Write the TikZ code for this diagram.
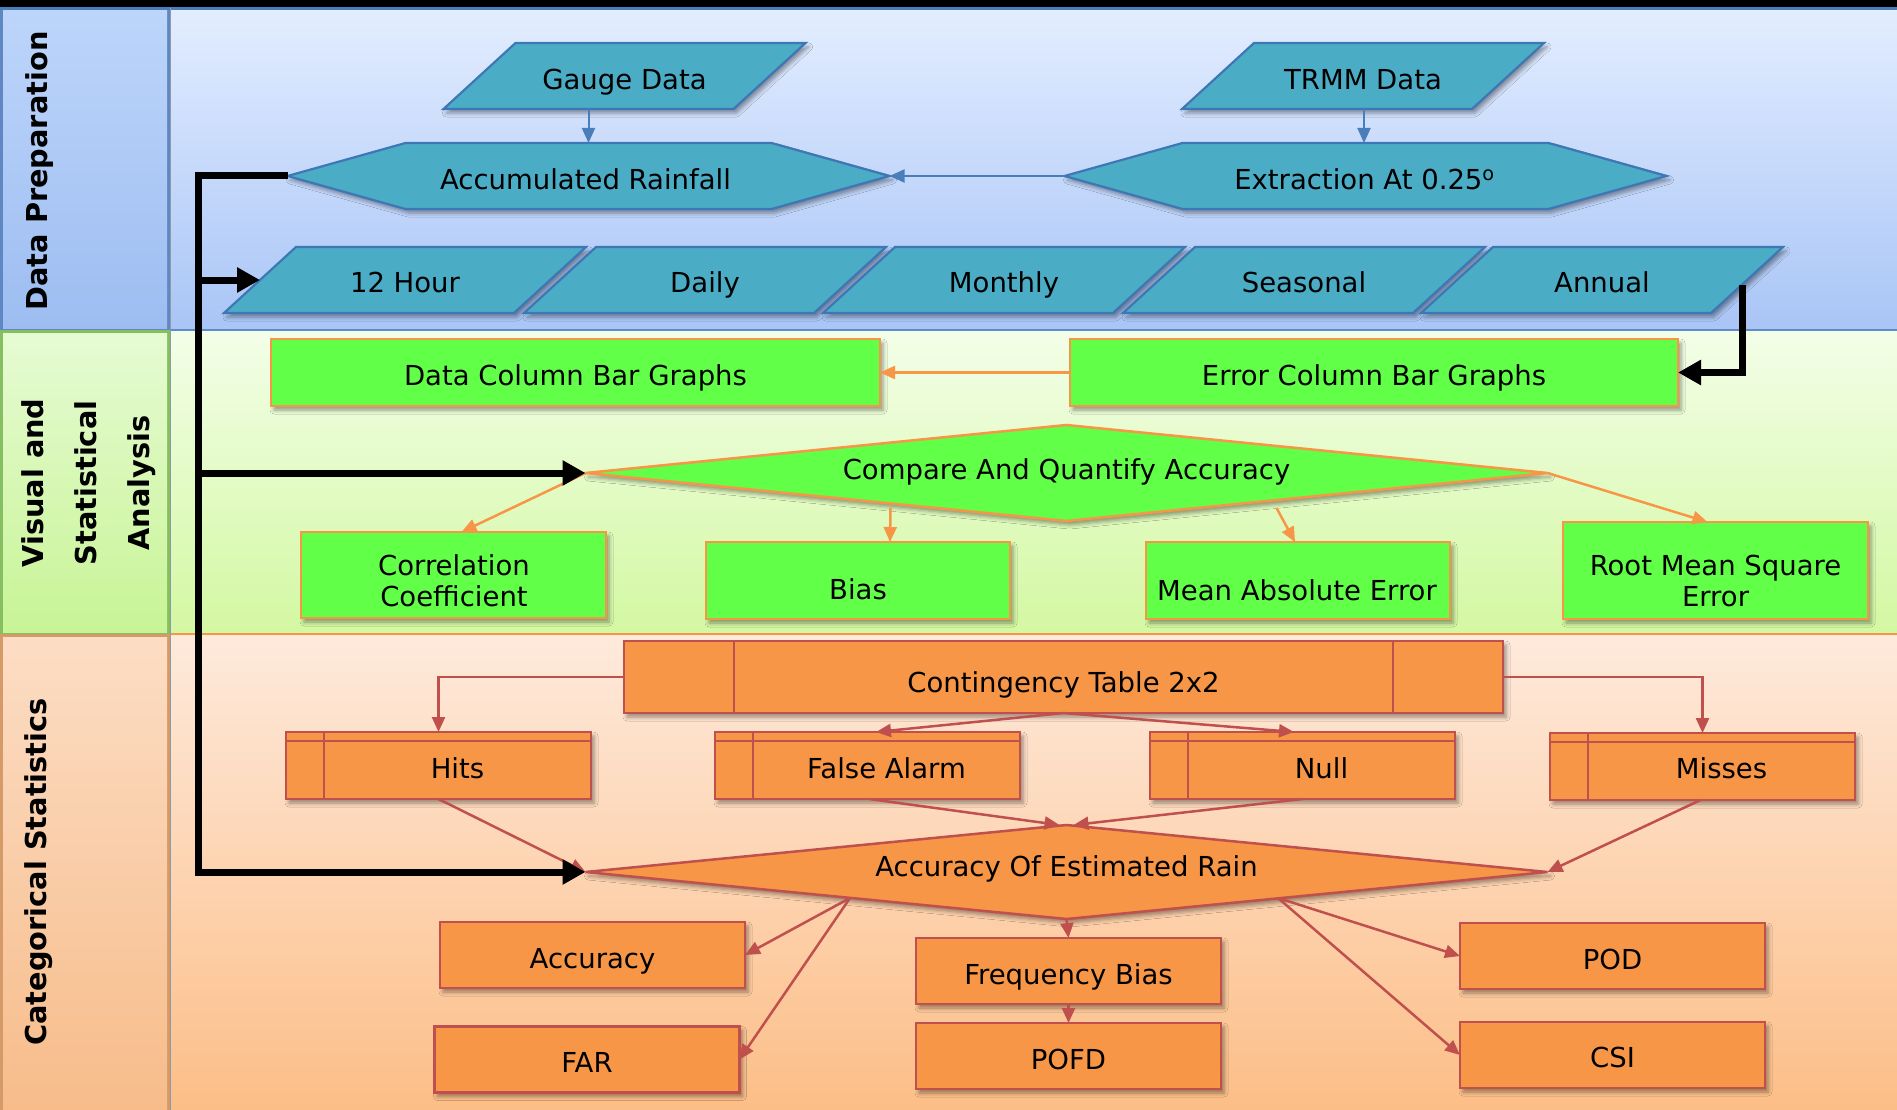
\documentclass[tikz,border=0pt]{standalone}
\usepackage{fontspec}
\setmainfont{DejaVu Sans}
\usetikzlibrary{arrows.meta,calc,shadows.blur}
\definecolor{cTeal}{HTML}{4BACC6}
\definecolor{cTealB}{HTML}{3E77B6}
\definecolor{cBlueLn}{HTML}{4A7EBB}
\definecolor{cGreen}{HTML}{62FF48}
\definecolor{cOrange}{HTML}{F79646}
\definecolor{cRed}{HTML}{C0504D}
\definecolor{bgDPt}{HTML}{E3EDFF}
\definecolor{bgDPb}{HTML}{A9C5F6}
\definecolor{bgVSt}{HTML}{F3FEE8}
\definecolor{bgVSb}{HTML}{D3F8A2}
\definecolor{bgCSt}{HTML}{FEEADC}
\definecolor{bgCSb}{HTML}{FCBE87}
\definecolor{pnDPt}{HTML}{BDD5FA}
\definecolor{pnDPb}{HTML}{9DBDF1}
\definecolor{pnDPl}{HTML}{5F88C2}
\definecolor{pnVSt}{HTML}{E6FBD3}
\definecolor{pnVSb}{HTML}{C8F496}
\definecolor{pnVSl}{HTML}{86BE62}
\definecolor{pnCSt}{HTML}{FCDDC4}
\definecolor{pnCSb}{HTML}{F7BC8A}
\definecolor{pnCSl}{HTML}{D49A68}
\definecolor{sepBlue}{HTML}{5F8BCB}
\definecolor{sepGray}{HTML}{8E9AA6}
\tikzset{
  base/.style={inner sep=0pt, outer sep=0pt},
  txt/.style={base, font=\fontsize{27.5}{31}\selectfont, align=center, text=black},
  txtone/.style={txt, text height=21pt, text depth=6.5pt},
  lbl/.style={base, font=\fontsize{28.8}{53}\selectfont\bfseries, align=center, rotate=90, text=black},
  shd/.style={blur shadow={shadow xshift=3pt, shadow yshift=-4pt, shadow blur radius=4pt, shadow opacity=40}},
  tealshape/.style={shd, fill=cTeal, draw=cTealB, line width=2.2pt, line join=miter},
  gbox/.style={base, shd, rectangle, fill=cGreen, draw=cOrange, line width=2.5pt},
  obox/.style={base, shd, rectangle, fill=cOrange, draw=cRed, line width=2.5pt, minimum width=305pt, minimum height=66pt},
  innerln/.style={draw=cRed, line width=1.8pt},
  tipS/.tip={Triangle[length=15pt,width=13pt]},
  tipB/.tip={Triangle[length=23pt,width=24pt]},
  bluearr/.style={draw=cBlueLn, line width=2pt, -tipS},
  orarr/.style={draw=cOrange, line width=2.5pt, -tipS},
  redarr/.style={draw=cRed, line width=2.5pt, -tipS},
  bus/.style={draw=black, line width=7pt, line join=miter, -tipB},
}
\begin{document}
\begin{tikzpicture}[x=1pt,y=-1pt,
  pics/para/.style={code={\draw[tealshape] (-181,33) -- (109,33) -- (181,-33) -- (-109,-33) -- cycle;}},
  pics/hexa/.style={code={\draw[tealshape] (-301,0) -- (-183,-33) -- (183,-33) -- (301,0) -- (183,33) -- (-183,33) -- cycle;}},
  pics/diaG/.style={code={\draw[shd, fill=cGreen, draw=cOrange, line width=2.5pt] (-481,0) -- (0,-48) -- (481,0) -- (0,48) -- cycle;}},
  pics/diaO/.style={code={\draw[shd, fill=cOrange, draw=cRed, line width=2.5pt] (-481,0) -- (0,-47) -- (481,0) -- (0,47) -- cycle;}}]
\useasboundingbox (0,0) rectangle (1897,1110);

% ---------- backgrounds ----------
\fill[black] (0,0) rectangle (1897,8);
\shade[top color=bgDPt, bottom color=bgDPb] (170,8) rectangle (1897,330);
\shade[top color=bgVSt, bottom color=bgVSb] (170,330) rectangle (1897,634);
\shade[top color=bgCSt, bottom color=bgCSb] (170,634) rectangle (1897,1110);
\fill[pnDPl] (0,8) rectangle (170,330);
\shade[top color=pnDPt, bottom color=pnDPb] (3,10) rectangle (167,328);
\fill[pnVSl] (0,330) rectangle (170,634);
\shade[top color=pnVSt, bottom color=pnVSb] (3,333) rectangle (167,632);
\fill[pnCSl] (0,634) rectangle (170,1110);
\shade[top color=pnCSt, bottom color=pnCSb] (3,637) rectangle (167,1110);
\draw[cBlueLn, line width=2.5pt] (0,8.5) -- (1897,8.5);
\draw[sepBlue, line width=1.5pt] (170,330) -- (1897,330);
\draw[cOrange, line width=1.5pt] (170,634) -- (1897,634);
\draw[sepGray, line width=1pt] (170,8) -- (170,1110);

% ---------- lane labels ----------
\node[lbl] (lDP) at (40,171) {Data Preparation};
\node[lbl] (lVS) at (89,483) {Visual and\\Statistical\\Analysis};
\node[lbl] (lCS) at (39,872) {Categorical Statistics};

% ---------- data preparation ----------
\coordinate (gaugeC) at (624.5,76);
\coordinate (trmmC) at (1363,76);
\coordinate (accC) at (588.5,176);
\coordinate (extC) at (1365.5,176);
\coordinate (h12C) at (405,280);
\coordinate (dayC) at (705,280);
\coordinate (monC) at (1004,280);
\coordinate (seaC) at (1304,280);
\coordinate (annC) at (1602,280);
\pic at (gaugeC) {para};
\pic at (trmmC) {para};
\pic at (accC) {hexa};
\pic at (extC) {hexa};
\pic at (h12C) {para};
\pic at (dayC) {para};
\pic at (monC) {para};
\pic at (seaC) {para};
\pic at (annC) {para};
\node[txtone] (gauge) at ($(gaugeC)+(0,6)$) {Gauge Data};
\node[txtone] (trmm) at ($(trmmC)+(0,6)$) {TRMM Data};
\node[txtone] (acc0) at ($(accC)+(-3,6)$) {Accumulated Rainfall};
\node[txtone] (ext) at ($(extC)+(-1,6)$) {Extraction At 0.25\textsuperscript{o}};
\node[txtone] (h12) at ($(h12C)+(0,5)$) {12 Hour};
\node[txtone] (day) at ($(dayC)+(0,5)$) {Daily};
\node[txtone] (mon) at ($(monC)+(0,5)$) {Monthly};
\node[txtone] (sea) at ($(seaC)+(0,5)$) {Seasonal};
\node[txtone] (ann) at ($(annC)+(0,5)$) {Annual};
\draw[bluearr] ($(gaugeC)+(-36,33)$) -- ($(accC)+(0,-33)$);
\draw[bluearr] ($(trmmC)+(1,33)$) -- ($(extC)+(-1.5,-33)$);
\draw[bluearr] ($(extC)+(-301,0)$) -- ($(accC)+(301,0)$);

% ---------- visual and statistical ----------
\node[gbox, minimum width=609pt, minimum height=67pt] (dcb) at (575.5,372.5) {};
\node[txtone] (dcbT) at (575.5,378) {Data Column Bar Graphs};
\node[gbox, minimum width=608pt, minimum height=67pt] (ecb) at (1374,372.5) {};
\node[txtone] (ecbT) at (1374,378) {Error Column Bar Graphs};
\coordinate (cmpC) at (1066.5,473);
\pic at (cmpC) {diaG};
\node[txtone] (cmp) at ($(cmpC)+(0,-1)$) {Compare And Quantify Accuracy};
\node[gbox, minimum width=305pt, minimum height=86pt] (cc) at (453.5,575) {};
\node[txt] (ccT) at (454,580.5) {Correlation\\Coefficient};
\node[gbox, minimum width=304pt, minimum height=77pt] (bias) at (858,580.5) {};
\node[txtone] (biasT) at (858,592) {Bias};
\node[gbox, minimum width=304pt, minimum height=77pt] (mae) at (1298,580.5) {};
\node[txtone] (maeT) at (1297,593) {Mean Absolute Error};
\node[gbox, minimum width=305pt, minimum height=97pt] (rmse) at (1715.5,570.5) {};
\node[txt] (rmseT) at (1715.5,580.5) {Root Mean Square\\Error};
\draw[orarr] (ecb.west) -- (dcb.east);
\draw[orarr] ($(cmpC)+(-481,0)$) -- ($(cc.north)+(8,0)$);
\draw[orarr] ($(cmpC)+(-176,35)$) -- ($(bias.north)+(32,0)$);
\draw[orarr] ($(cmpC)+(210,35)$) -- ($(mae.north)+(-3,0)$);
\draw[orarr] ($(cmpC)+(481,0)$) -- ($(rmse.north)+(-8,0)$);

% ---------- categorical ----------
\node[obox, minimum width=879pt, minimum height=72pt] (ct) at (1063.5,677) {};
\draw[innerln] ($(ct.north west)+(110,0)$) -- ($(ct.south west)+(110,0)$);
\draw[innerln] ($(ct.north east)+(-110,0)$) -- ($(ct.south east)+(-110,0)$);
\node[txtone] (ctT) at (1063.5,685) {Contingency Table 2x2};
\node[obox, minimum height=67pt] (hits) at (438.5,765.5) {};
\node[obox, minimum height=67pt] (fa) at (867.5,765.5) {};
\node[obox, minimum height=67pt] (null) at (1302.5,765.5) {};
\node[obox, minimum height=67pt] (miss) at (1702.5,766.5) {};
\foreach \n in {hits,fa,null,miss}{
  \draw[innerln] ($(\n.north west)+(0,9)$) -- ($(\n.north east)+(0,9)$);
  \draw[innerln] ($(\n.north west)+(38,0)$) -- ($(\n.south west)+(38,0)$);
}
\node[txtone] (hitsT) at ($(hits)+(19,5.5)$) {Hits};
\node[txtone] (faT) at ($(fa)+(19,5.5)$) {False Alarm};
\node[txtone] (nullT) at ($(null)+(19,5.5)$) {Null};
\node[txtone] (missT) at ($(miss)+(19,5)$) {Misses};
\coordinate (estC) at (1066.5,872);
\pic at (estC) {diaO};
\node[txtone] (est) at ($(estC)+(0,-3)$) {Accuracy Of Estimated Rain};
\node[obox] (acc) at (592.5,955) {};
\node[obox] (far) at (587,1059.5) {};
\node[obox] (fb) at (1068.5,971) {};
\node[obox] (pofd) at (1068.5,1056) {};
\node[obox] (pod) at (1612.5,956) {};
\node[obox] (csi) at (1612.5,1055) {};
\node[txtone] (accT) at ($(acc)+(0,6)$) {Accuracy};
\node[txtone] (farT) at ($(far)+(0,5.5)$) {FAR};
\node[txtone] (fbT) at ($(fb)+(0,6)$) {Frequency Bias};
\node[txtone] (pofdT) at ($(pofd)+(0,6)$) {POFD};
\node[txtone] (podT) at ($(pod)+(0,6)$) {POD};
\node[txtone] (csiT) at ($(csi)+(0,5)$) {CSI};

\draw[redarr] (ct.west) -| (hits.north);
\draw[redarr] (ct.east) -| (miss.north);
\draw[redarr] (ct.south) -- ($(fa.north)+(8.5,0)$);
\draw[redarr] (ct.south) -- ($(null.north)+(-8.5,0)$);
\draw[redarr] (hits.south) -- ($(estC)+(-481,0)$);
\draw[redarr] ($(fa.south)+(2,0)$) -- ($(estC)+(-7,-47)$);
\draw[redarr] (null.south) -- ($(estC)+(7,-47)$);
\draw[redarr] ($(miss.south)+(-2,0)$) -- ($(estC)+(481,0)$);
\coordinate (estLL) at ($(estC)+(-216.5,26)$);
\coordinate (estLR) at ($(estC)+(211.5,26)$);
\draw[redarr] (estLL) -- (acc.east);
\draw[redarr] (estLL) -- (far.east);
\draw[redarr] ($(estC)+(0,47)$) -- (fb.north);
\draw[redarr] (fb.south) -- (pofd.north);
\draw[redarr] (estLR) -- (pod.west);
\draw[redarr] (estLR) -- (csi.west);

% ---------- black bus ----------
\coordinate (busA) at (198,176);
\coordinate (busB) at (198,280);
\coordinate (busC) at (198,473);
\coordinate (busD) at (198,872);
\draw[bus] ($(accC)+(-301,0)$) -- (busA) -- (busD) -- ($(estC)+(-481,0)$);
\draw[bus] (busB) -- ($(h12C)+(-145,0)$);
\draw[bus] (busC) -- ($(cmpC)+(-481,0)$);
\draw[bus] ($(annC)+(140,5)$) |- (ecb.east);
\end{tikzpicture}
\end{document}
